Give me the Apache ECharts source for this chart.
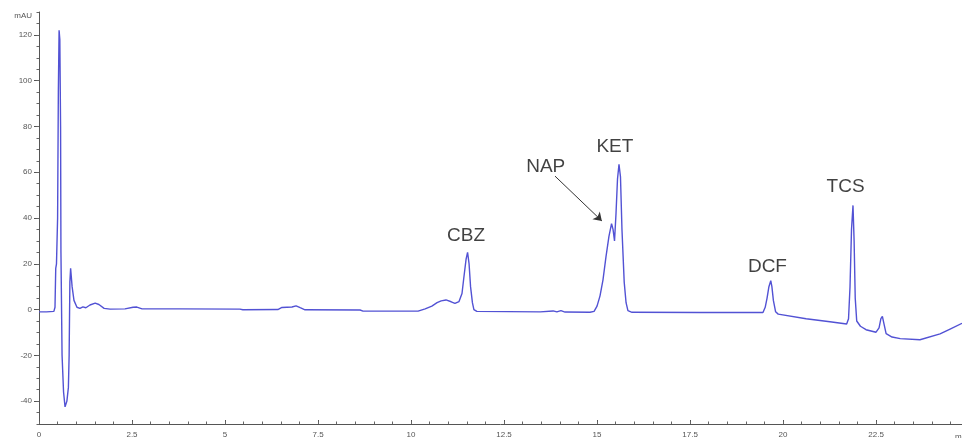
<!DOCTYPE html>
<html>
<head>
<meta charset="utf-8">
<script src="https://cdn.jsdelivr.net/npm/echarts@6/dist/echarts.min.js"></script>
<style>html,body{margin:0;padding:0;background:#fff}#c{width:962px;height:438px}</style>
</head>
<body>
<div id="c"></div>
<script>
// Retention time (min)
const times = [0.00,0.20,0.40,0.43,0.45,0.47,0.50,0.52,0.54,0.56,0.58,0.59,0.62,0.66,0.70,0.75,0.79,0.81,0.83,0.85,0.89,0.94,1.02,1.10,1.18,1.26,1.37,1.51,1.61,1.75,1.91,2.31,2.53,2.63,2.77,3.79,5.40,5.48,6.42,6.53,6.80,6.91,7.02,7.15,8.63,8.71,10.19,10.38,10.56,10.70,10.81,10.94,11.08,11.18,11.29,11.37,11.42,11.48,11.52,11.56,11.60,11.65,11.69,11.77,13.47,13.82,13.92,14.03,14.14,14.81,14.92,15.00,15.08,15.16,15.24,15.32,15.39,15.43,15.47,15.51,15.55,15.59,15.63,15.67,15.73,15.78,15.83,15.94,17.77,19.46,19.52,19.57,19.62,19.67,19.70,19.74,19.80,19.87,20.62,21.26,21.71,21.76,21.80,21.84,21.88,21.91,21.94,21.98,22.08,22.23,22.50,22.58,22.63,22.67,22.71,22.77,22.93,23.15,23.68,24.22,24.49,24.81];
// Absorbance (mAU)
const mAU = [-1.0,-1.0,-0.8,1.0,18,20,40,95,122,118,80,25,-20,-36,-42.5,-40,-34,-20,12,18,10,4,1,0.5,1.2,0.8,2,2.8,2.2,0.5,0.2,0.3,1,1.1,0.3,0.3,0.2,-0.1,0,0.9,1.1,1.6,0.8,-0.1,-0.2,-0.7,-0.7,0.3,1.5,3,3.8,4.2,3.4,2.7,3.5,7,14,22,25,20,10,3,0,-0.8,-1,-0.6,-1,-0.5,-1.1,-1.2,-0.8,1.5,6,13,23,32,37.5,35,30,42,57,63.5,58,35,12,3,-0.5,-1.2,-1.3,-1.3,1,5,10,12.6,10,4,-1,-2,-4,-5.3,-6.3,-4,10,35,45.5,30,5,-5,-7.3,-8.8,-9.9,-8,-4,-3,-6,-10.5,-12,-12.7,-13.2,-10.6,-8.5,-6];

const xTickLabels = [0, 2.5, 5, 7.5, 10, 12.5, 15, 17.5, 20, 22.5];
const yTickLabels = [-40, -20, 0, 20, 40, 60, 80, 100, 120];

const peakNames = ['CBZ', 'NAP', 'KET', 'DCF', 'TCS'];
const peakLabelX = [11.48, 13.62, 15.48, 19.58, 21.68];
const peakLabelY = [32.2, 62.6, 71.1, 18.9, 53.7];
// NAP arrow: from label to peak
const arrowFrom = [13.87, 58.3];
const arrowTo = [15.13, 38.7];

const xMin = 0, xMax = 24.81, yMin = -50, yMax = 130;

const lineData = times.map((t, i) => [t, mAU[i]]);
const labelData = peakNames.map((n, i) => ({ name: n, value: [peakLabelX[i], peakLabelY[i]] }));

const axisFont = { color: '#555', fontSize: 8, fontFamily: 'Liberation Sans' };

const chart = echarts.init(document.getElementById('c'), null, { renderer: 'canvas' });
chart.setOption({
  animation: false,
  backgroundColor: '#fff',
  grid: { left: 39, right: 0, top: 12, bottom: 14, containLabel: false, outerBoundsMode: 'none' },
  xAxis: [{
    type: 'value', min: xMin, max: xMax,
    name: 'min', nameLocation: 'end', nameGap: -7,
    nameTextStyle: { color: '#555', fontSize: 8, fontFamily: 'Liberation Sans', align: 'left', verticalAlign: 'top', padding: [9, 0, 0, 0] },
    axisLine: { show: true, onZero: false, lineStyle: { color: '#555', width: 1 } },
    axisTick: { show: true, inside: true, length: 4, customValues: xTickLabels, lineStyle: { color: '#555' } },
    axisLabel: Object.assign({ customValues: xTickLabels, margin: 7 }, axisFont),
    splitLine: { show: false }
  }, {
    type: 'value', min: xMin, max: xMax, interval: 0.5, position: 'bottom',
    axisLine: { show: false, onZero: false },
    axisTick: { show: true, inside: true, length: 2.5, lineStyle: { color: '#666' } },
    axisLabel: { show: false },
    splitLine: { show: false }
  }],
  yAxis: [{
    type: 'value', min: yMin, max: yMax,
    name: 'mAU', nameLocation: 'end', nameGap: -4,
    nameTextStyle: { color: '#555', fontSize: 8, fontFamily: 'Liberation Sans', align: 'right', verticalAlign: 'middle', padding: [0, 7, 0, 0] },
    axisLine: { show: true, onZero: false, lineStyle: { color: '#555', width: 1 } },
    axisTick: { show: true, length: 5, customValues: yTickLabels, lineStyle: { color: '#555' } },
    axisLabel: Object.assign({ customValues: yTickLabels, margin: 7 }, axisFont),
    splitLine: { show: false }
  }, {
    type: 'value', min: yMin, max: yMax, interval: 5, position: 'left',
    axisLine: { show: false, onZero: false },
    axisTick: { show: true, length: 2.5, lineStyle: { color: '#666' } },
    axisLabel: { show: false },
    splitLine: { show: false }
  }],
  series: [{
    type: 'line',
    data: lineData,
    xAxisIndex: 0, yAxisIndex: 0,
    showSymbol: false,
    symbol: 'none',
    lineStyle: { color: '#5252d4', width: 1.4 },
    markLine: {
      silent: true,
      symbol: ['none', 'arrow'],
      symbolSize: 8,
      label: { show: false },
      lineStyle: { color: '#333', width: 1, type: 'solid' },
      data: [[{ coord: arrowFrom }, { coord: arrowTo }]]
    }
  }, {
    type: 'scatter',
    data: labelData,
    xAxisIndex: 0, yAxisIndex: 0,
    symbolSize: 0,
    silent: true,
    label: {
      show: true, position: 'inside', formatter: '{b}',
      color: '#111', fontSize: 19, fontFamily: 'Liberation Sans'
    }
  }]
});
</script>
</body>
</html>
